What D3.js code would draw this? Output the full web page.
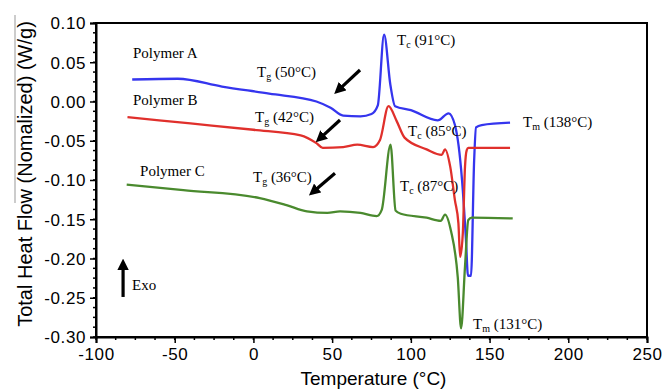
<!DOCTYPE html>
<html>
<head>
<meta charset="utf-8">
<script src="https://cdn.jsdelivr.net/npm/d3@7"></script>
<style>
  html, body { margin: 0; padding: 0; background: #fff; }
  svg { display: block; }
</style>
</head>
<body>
<div id="chart"></div>
<script>
// Data (temperature in °C, heat flow in W/g)
const polymerA = [
  [-77, 0.028], [-48, 0.029], [-20, 0.019], [10, 0.010], [40, 0.000],
  [49, -0.008], [57, -0.018], [68, -0.019], [75, -0.016], [79, -0.005],
  [83, 0.085], [87, 0.021], [90, -0.006], [100, -0.011], [117, -0.024],
  [124, -0.015], [128, -0.030], [132.5, -0.100], [135, -0.176], [136.3, -0.222],
  [138.2, -0.222], [140.2, -0.075], [141.4, -0.033], [145, -0.030], [163, -0.027]
];
const polymerB = [
  [-80, -0.020], [-40, -0.028], [0, -0.036], [30, -0.043], [40, -0.053],
  [44, -0.059], [57, -0.058], [66, -0.055], [76, -0.058], [80.4, -0.049],
  [85.8, -0.006], [91, -0.025], [96, -0.046], [110, -0.061], [119.6, -0.068],
  [121.7, -0.061], [125, -0.083], [128, -0.126], [130.2, -0.155], [131.3, -0.198],
  [133, -0.168], [134.4, -0.083], [135.5, -0.062], [136.5, -0.059], [163, -0.059]
];
const polymerC = [
  [-80.5, -0.106], [-44.5, -0.113], [4, -0.123], [21, -0.132], [34, -0.140],
  [47, -0.142], [55, -0.140], [68, -0.142], [78.3, -0.146], [81.5, -0.138],
  [87.1, -0.055], [90.3, -0.139], [93.6, -0.143], [110, -0.148], [119, -0.152],
  [121.7, -0.144], [125.5, -0.165], [129.8, -0.224], [131.9, -0.289], [134.4, -0.210],
  [136.5, -0.151], [138.7, -0.148], [164.7, -0.149]
];
const xTicks = [-100, -50, 0, 50, 100, 150, 200, 250];
const yTicks = [0.10, 0.05, 0.00, -0.05, -0.10, -0.15, -0.20, -0.25, -0.30];

const series = [
  { name: "Polymer A", values: polymerA, color: "#3535ee" },
  { name: "Polymer B", values: polymerB, color: "#e0302c" },
  { name: "Polymer C", values: polymerC, color: "#4a8a2e" }
];

const width = 662;
const height = 391;
const margin = { top: 23, right: 15, bottom: 54, left: 96 };

const svg = d3.select("#chart")
  .append("svg")
  .attr("width", width)
  .attr("height", height);

const x = d3.scaleLinear().domain([-100, 250]).range([margin.left, width - margin.right]);
const y = d3.scaleLinear().domain([-0.30, 0.10]).range([height - margin.bottom, margin.top]);

// plain hyphen minus like the source
const fmtX = d => String(d);
const fmtY = d => d3.format(".2f")(d).replace("−", "-");

// stray grey rule beside the y label (present in the source image)
svg.append("line")
  .attr("x1", 15).attr("x2", 15).attr("y1", 15).attr("y2", 203)
  .attr("stroke", "#999").attr("stroke-width", 1);

// frame
svg.append("rect")
  .attr("x", x(-100)).attr("y", y(0.10))
  .attr("width", x(250) - x(-100)).attr("height", y(-0.30) - y(0.10))
  .attr("fill", "none").attr("stroke", "#000").attr("stroke-width", 2);

// minor ticks
const xMinor = d3.range(-100, 250.1, 12.5);
svg.append("g").selectAll("line").data(xMinor).join("line")
  .attr("x1", d => x(d)).attr("x2", d => x(d))
  .attr("y1", y(-0.30)).attr("y2", y(-0.30) + 3)
  .attr("stroke", "#000").attr("stroke-width", 1.5);
const yMinor = d3.range(-0.30, 0.1001, 0.0125);
svg.append("g").selectAll("line").data(yMinor).join("line")
  .attr("x1", x(-100) - 3).attr("x2", x(-100))
  .attr("y1", d => y(d)).attr("y2", d => y(d))
  .attr("stroke", "#000").attr("stroke-width", 1.5);

// axes
const xAxis = svg.append("g")
  .attr("transform", `translate(0,${y(-0.30)})`)
  .call(d3.axisBottom(x).tickValues(xTicks).tickSize(6).tickPadding(5).tickFormat(fmtX));
const yAxis = svg.append("g")
  .attr("transform", `translate(${x(-100)},0)`)
  .call(d3.axisLeft(y).tickValues(yTicks).tickSize(6).tickPadding(4).tickFormat(fmtY));

[xAxis, yAxis].forEach(g => {
  g.select(".domain").attr("stroke-width", 2);
  g.selectAll(".tick line").attr("stroke-width", 1.5);
  g.selectAll(".tick text")
    .attr("fill", "#000")
    .style("font-family", "'Liberation Sans', Arial, sans-serif")
    .style("font-size", "17px")
    .style("letter-spacing", "0.6px");
});
yAxis.selectAll(".tick text").attr("dy", "0.35em");

// axis titles
svg.append("text")
  .attr("x", (x(-100) + x(250)) / 2 + 2).attr("y", 385)
  .attr("text-anchor", "middle")
  .style("font-family", "'Liberation Sans', Arial, sans-serif")
  .style("font-size", "19px")
  .text("Temperature  (°C)");
svg.append("text")
  .attr("transform", `translate(32,${(15 + 333) / 2}) rotate(-90)`)
  .attr("text-anchor", "middle")
  .style("font-family", "'Liberation Sans', Arial, sans-serif")
  .style("font-size", "20px")
  .text("Total Heat Flow (Nomalized)  (W/g)");

// curves
const line = d3.line().x(d => x(d[0])).y(d => y(d[1])).curve(d3.curveMonotoneX);
svg.append("g").selectAll("path").data(series).join("path")
  .attr("d", d => line(d.values))
  .attr("fill", "none")
  .attr("stroke", d => d.color)
  .attr("stroke-width", 2.3)
  .attr("stroke-linejoin", "round");

// annotations
const serif = "'Liberation Serif', 'Times New Roman', serif";
const labels = [
  { x: -76.5, y: 0.0554, t: "Polymer A" },
  { x: -76.5, y: -0.0045, t: "Polymer B" },
  { x: -72, y: -0.0949, t: "Polymer C" },
  { x: 2.3, y: 0.0312, t: "T", sub: "g", rest: " (50°C)" },
  { x: 1, y: -0.0261, t: "T", sub: "g", rest: " (42°C)" },
  { x: -0.3, y: -0.1025, t: "T", sub: "g", rest: " (36°C)" },
  { x: 91.2, y: 0.072, t: "T", sub: "c", rest: " (91°C)" },
  { x: 98.2, y: -0.044, t: "T", sub: "c", rest: " (85°C)" },
  { x: 93.1, y: -0.114, t: "T", sub: "c", rest: " (87°C)" },
  { x: 171.3, y: -0.0325, t: "T", sub: "m", rest: " (138°C)" },
  { x: 139.5, y: -0.2898, t: "T", sub: "m", rest: " (131°C)" },
  { x: -77.1, y: -0.24, t: "Exo" }
];
const lab = svg.append("g").style("font-family", serif).style("font-size", "15px");
labels.forEach(l => {
  const t = lab.append("text").attr("x", x(l.x)).attr("y", y(l.y));
  t.append("tspan").text(l.t);
  if (l.sub) {
    t.append("tspan").attr("dy", 3).style("font-size", "10px").text(l.sub);
    t.append("tspan").attr("dy", -3).text(l.rest);
  }
});

// arrows
svg.append("defs").append("marker")
  .attr("id", "head").attr("viewBox", "0 0 10 10")
  .attr("refX", 4).attr("refY", 5)
  .attr("markerWidth", 3.6).attr("markerHeight", 3.6)
  .attr("orient", "auto")
  .append("path").attr("d", "M0,0 L10,5 L0,10 Z").attr("fill", "#000");
const arrows = [
  [67.7, 0.0401, 54.5, 0.0155],
  [55, -0.0236, 42.8, -0.046],
  [51.8, -0.0915, 38.6, -0.114],
  [-82.8, -0.249, -82.8, -0.209]
];
svg.append("g").selectAll("line").data(arrows).join("line")
  .attr("x1", d => x(d[0])).attr("y1", d => y(d[1]))
  .attr("x2", d => x(d[2])).attr("y2", d => y(d[3]))
  .attr("stroke", "#000").attr("stroke-width", 3.2)
  .attr("marker-end", "url(#head)");
</script>
</body>
</html>
